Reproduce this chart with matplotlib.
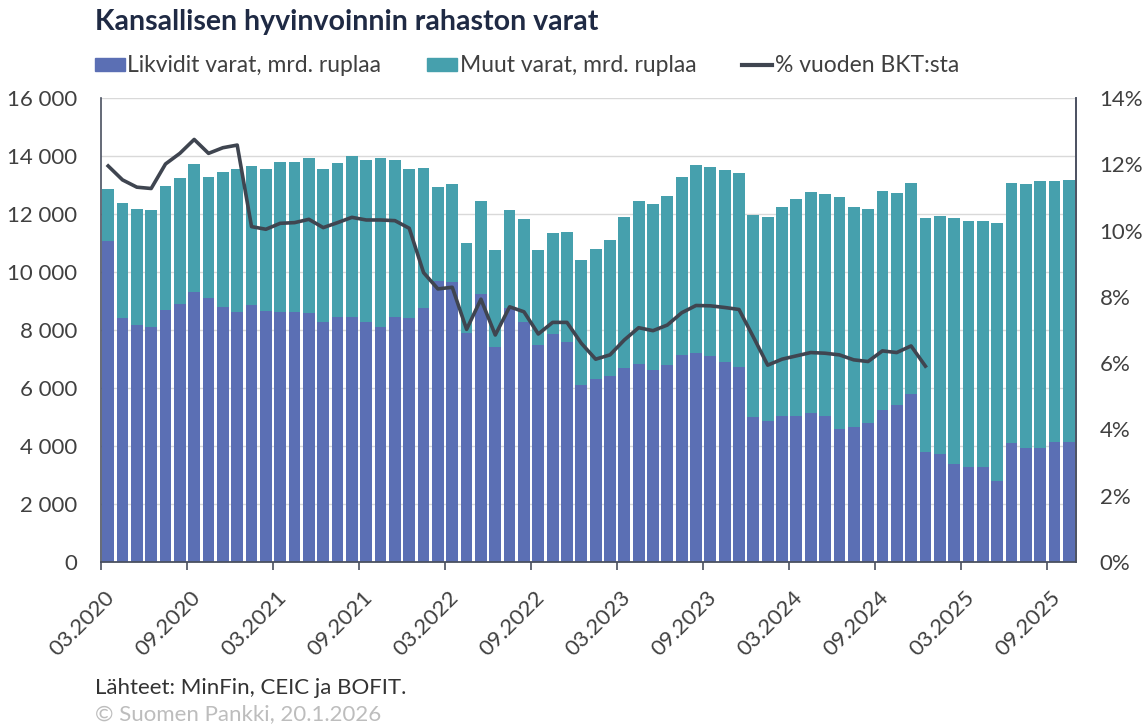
import numpy as np
import pandas as pd
import matplotlib
matplotlib.use("Agg")
import matplotlib.pyplot as plt
from matplotlib.patches import Patch
from matplotlib.lines import Line2D
from matplotlib.ticker import FuncFormatter
from matplotlib.transforms import ScaledTranslation

# -------------------------------
# DATA (monthly, 03.2020 - 10.2025)
# -------------------------------
months = pd.period_range("2020-03", "2025-10", freq="M").strftime("%m.%Y").tolist()

# liquid assets, bn roubles
liquid = [11068, 8402, 8172, 8092, 8689, 8885, 9321, 9114, 8781, 8631,
          8862, 8654, 8631, 8608, 8597, 8287, 8459, 8436, 8263, 8090,
          8459, 8402, 8746, 9700, 9666, 7884, 9229, 7401, 8746, 8263,
          7482, 7861, 7574, 6103, 6310, 6413, 6678, 6827, 6620, 6793,
          7137, 7218, 7103, 6908, 6735, 5011, 4862, 5034, 5046, 5149,
          5034, 4586, 4643, 4804, 5241, 5413, 5793, 3804, 3712, 3390,
          3264, 3287, 2804, 4115, 3919, 3919, 4149, 4149]

# other assets, bn roubles
other = [1783, 3988, 3988, 4034, 4264, 4355, 4402, 4172, 4655, 4908,
         4780, 4885, 5172, 5195, 5333, 5275, 5287, 5574, 5609, 5828,
         5402, 5137, 4839, 3219, 3356, 3104, 3230, 3357, 3391, 3575,
         3276, 3494, 3804, 4298, 4482, 4690, 5229, 5632, 5712, 5838,
         6149, 6470, 6528, 6608, 6678, 6942, 7022, 7195, 7459, 7597,
         7643, 8011, 7609, 7356, 7540, 7299, 7275, 8076, 8230, 8490,
         8481, 8483, 8874, 8965, 9115, 9207, 9000, 9023]

# share of annual GDP, % (available until 12.2024)
gdp_share = [11.95, 11.53, 11.31, 11.27, 12.01, 12.33, 12.75, 12.33, 12.50, 12.58,
             10.12, 10.04, 10.22, 10.24, 10.34, 10.09, 10.24, 10.40, 10.32, 10.32,
             10.30, 10.07, 8.73, 8.24, 8.29, 7.02, 7.93, 6.85, 7.70, 7.55,
             6.88, 7.23, 7.23, 6.60, 6.12, 6.25, 6.70, 7.07, 6.98, 7.15,
             7.52, 7.74, 7.73, 7.68, 7.62, 6.79, 5.94, 6.12, 6.22, 6.32,
             6.30, 6.25, 6.10, 6.05, 6.37, 6.32, 6.52, 5.91]

tick_labels = ["03.2020", "09.2020", "03.2021", "09.2021", "03.2022", "09.2022",
               "03.2023", "09.2023", "03.2024", "09.2024", "03.2025", "09.2025"]

# -------------------------------
# STYLE
# -------------------------------
plt.rcParams["font.family"] = ["Lato", "DejaVu Sans"]
BLUE = "#5b6fb4"
TEAL = "#46a0ad"
LINE = "#3f4550"
TXT = "#404040"
AXIS = "#4a5060"

fig = plt.figure(figsize=(11.45, 7.25), dpi=100)
ax = fig.add_axes([0.0882, 0.2248, 0.8515, 0.640])

x = np.arange(len(months)) + 0.5
ax.bar(x, liquid, width=0.82, color=BLUE, zorder=2)
ax.bar(x, other, width=0.82, bottom=liquid, color=TEAL, zorder=2)

ax.set_xlim(0, len(months))
ax.set_ylim(0, 16000)
ax.set_yticks(np.arange(0, 16001, 2000))
ax.yaxis.set_major_formatter(FuncFormatter(lambda v, p: f"{int(v):,}".replace(",", " ")))
ax.grid(axis="y", color="#d9d9d9", linewidth=1, zorder=0)
ax.set_axisbelow(True)

ax.set_xticks(np.arange(0, len(months), 6))
ax.set_xticklabels(tick_labels, rotation=45, ha="right", va="center",
                   rotation_mode="anchor", fontsize=16, color=TXT)
ax.tick_params(axis="x", length=6, width=1.2, color=AXIS, pad=17)
# nudge the rotated labels a bit to the right, like in the original
shift = ScaledTranslation(0.10, 0, fig.dpi_scale_trans)
for lbl in ax.get_xticklabels():
    lbl.set_transform(lbl.get_transform() + shift)
ax.tick_params(axis="y", length=0, labelsize=16, labelcolor=TXT, pad=17)

ax.spines["top"].set_visible(False)
for side in ["left", "right"]:
    ax.spines[side].set_color(AXIS)
    ax.spines[side].set_linewidth(1.2)
ax.spines["bottom"].set_color(AXIS)
ax.spines["bottom"].set_linewidth(1.3)

# right axis: % of GDP
ax2 = ax.twinx()
ax2.plot(np.arange(len(gdp_share)) + 0.5, gdp_share, color=LINE, linewidth=2.6, zorder=3)
ax2.set_ylim(0, 14)
ax2.set_yticks(np.arange(0, 15, 2))
ax2.yaxis.set_major_formatter(FuncFormatter(lambda v, p: f"{int(v)}%"))
ax2.tick_params(axis="y", length=0, labelsize=16, labelcolor=TXT, pad=17)
for side in ["top", "left", "bottom"]:
    ax2.spines[side].set_visible(False)
ax2.spines["right"].set_color(AXIS)
ax2.spines["right"].set_linewidth(1.2)

# -------------------------------
# TITLE, LEGEND, FOOTER
# -------------------------------
fig.text(0.083, 0.970, "Kansallisen hyvinvoinnin rahaston varat", fontsize=20.5,
         fontweight="bold", color="#1f2a44", va="center", ha="left")

handles = [Patch(color=BLUE), Patch(color=TEAL), Line2D([0], [0], color=LINE, linewidth=3)]
labels = ["Likvidit varat, mrd. ruplaa", "Muut varat, mrd. ruplaa", "% vuoden BKT:sta"]
fig.legend(handles, labels, loc="center left", bbox_to_anchor=(0.0649, 0.909), ncol=3,
           frameon=False, fontsize=16.5, handlelength=1.31, handleheight=0.48,
           handletextpad=0.11, columnspacing=2.0, labelcolor=TXT)

fig.text(0.083, 0.051, "Lähteet: MinFin, CEIC ja BOFIT.", fontsize=16, color="#333333",
         va="center", ha="left")
fig.text(0.083, 0.015, "© Suomen Pankki, 20.1.2026", fontsize=16, color="#bdbdbd",
         va="center", ha="left")

fig.savefig("out.png", dpi=100)
